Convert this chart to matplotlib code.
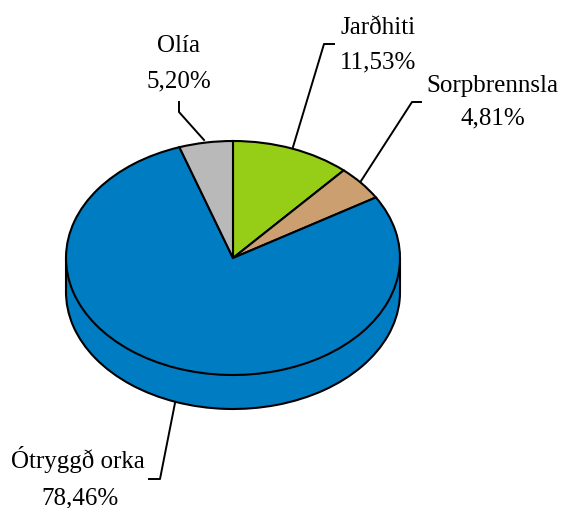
import matplotlib.pyplot as plt
from matplotlib.patches import Rectangle

# Data
labels = ['Jarðhiti', 'Sorpbrennsla', 'Ótryggð orka', 'Olía']
values = [11.53, 4.81, 78.46, 5.20]
value_labels = ['11,53%', '4,81%', '78,46%', '5,20%']
colors = ['#96CD16', '#CC9F70', '#007CC3', '#B9B9B9']

W, H = 561, 508
CX, CY, RX, RY, DEPTH = 233, 258, 167, 117, 34

plt.rcParams['font.family'] = ['Liberation Serif', 'DejaVu Serif']

fig = plt.figure(figsize=(W / 100, H / 100), dpi=100)
ax = fig.add_axes([0, 0, 1, 1])

# the side of the disc, then the top on it
drop = DEPTH / RY
edge = dict(edgecolor='black', linewidth=1.5)
ax.pie(values, colors=[colors[2]] * 4, startangle=90, counterclock=False,
       center=(0, -drop), wedgeprops=edge)
ax.add_patch(Rectangle((-1, -drop), 2, drop, facecolor=colors[2], edgecolor='none'))
ax.plot([-1, -1], [0, -drop], color='black', lw=1.5)
ax.plot([1, 1], [0, -drop], color='black', lw=1.5)
ax.pie(values, colors=colors, startangle=90, counterclock=False,
       center=(0, 0), wedgeprops=edge)

# stretch the circle to an ellipse
ax.set_aspect('auto')
ax.set_xlim(-CX / RX, (W - CX) / RX)
ax.set_ylim((CY - H) / RY, CY / RY)
ax.axis('off')


def px_line(xs, ys):
    fig.add_artist(plt.Line2D([x / W for x in xs], [1 - y / H for y in ys],
                              color='black', lw=1.4))


def px_text(x, y, s):
    fig.text(x / W, 1 - y / H, s, ha='center', va='baseline', fontsize=18, color='black')


# leader lines
px_line([293, 324, 334], [147, 44, 44])
px_line([361, 412, 421], [181, 102, 102])
px_line([204, 179, 179], [140, 112, 102])
px_line([175, 160, 149], [403, 479, 479])

# labels
px_text(78, 468, labels[2])
px_text(80, 504, value_labels[2])
px_text(179, 52, labels[3])
px_text(179, 87, value_labels[3])
px_text(378, 34, labels[0])
px_text(378, 68, value_labels[0])
px_text(492, 92, labels[1])
px_text(493, 124, value_labels[1])

fig.savefig('out.png', dpi=100)
